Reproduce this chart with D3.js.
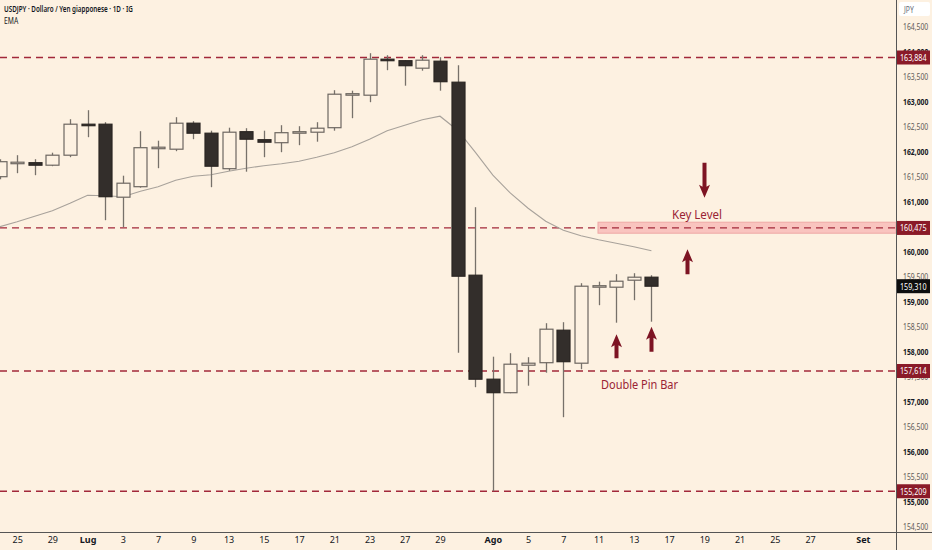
<!DOCTYPE html>
<html><head><meta charset="utf-8">
<script src="https://cdn.jsdelivr.net/npm/d3@7/dist/d3.min.js"></script>
<style>
html,body{margin:0;padding:0;background:#fdf1e1;}
svg{display:block;}
text{font-family:"Noto Sans","DejaVu Sans",sans-serif;}
</style></head>
<body>
<svg id="c" width="932" height="550"></svg>
<script>
// ---- data ----
const opens  = [161.50,161.78,161.78,161.73,161.93,162.55,162.55,161.09,161.30,162.08,162.05,162.57,162.37,161.66,162.40,162.24,162.18,162.38,162.39,162.48,163.15,163.13,163.85,163.82,163.67,163.81,163.39,159.53,157.45,157.18,157.73,157.78,158.43,157.77,159.31,159.29,159.43,159.49];
const highs  = [161.85,161.93,161.85,161.98,162.65,162.83,162.59,161.52,162.41,162.22,162.69,162.61,162.42,162.48,162.47,162.42,162.53,162.51,162.59,163.23,163.22,163.97,163.93,163.83,163.93,163.89,163.73,160.89,157.90,157.97,157.89,158.57,158.59,159.37,159.40,159.55,159.57,159.53];
const lows   = [161.45,161.57,161.53,161.71,161.89,162.29,160.63,160.49,161.28,161.67,162.01,162.25,161.29,161.62,161.60,161.89,161.99,162.13,162.20,162.42,162.67,162.99,163.63,163.32,163.62,163.22,157.98,157.29,155.21,157.17,157.32,157.58,156.69,157.65,158.93,158.58,159.03,158.60];
const closes = [161.80,161.79,161.73,161.93,162.55,162.54,161.10,161.37,162.08,162.09,162.57,162.37,161.71,162.39,162.25,162.19,162.38,162.40,162.47,163.15,163.16,163.85,163.82,163.72,163.83,163.40,159.51,157.45,157.18,157.75,157.77,158.45,157.80,159.31,159.32,159.41,159.49,159.31];
const emaValues = [160.50,160.60,160.71,160.82,160.97,161.13,161.12,161.10,161.21,161.30,161.43,161.51,161.54,161.61,161.67,161.72,161.76,161.81,161.89,161.98,162.10,162.25,162.42,162.53,162.64,162.71,162.43,161.99,161.53,161.17,160.87,160.61,160.43,160.32,160.24,160.17,160.10,160.02];
const levels = [163.884, 160.475, 157.614, 155.209];
const lastPrice = 159.310;
const keyZone = [160.37, 160.59];
// 160,500 is hidden behind the 160,475 level label in the reference
const yTicks = [154.5,155,155.5,156,156.5,157,157.5,158,158.5,159,159.5,160,161,161.5,162,162.5,163,163.5,164,164.5];
const xTickIdx    = [1,3,5,7,9,11,13,15,17,19,21,23,25,28,30,32,34,36,38,40,42,44,46,49];
const xTickLabels = ["25","29","Lug","3","7","9","13","15","17","21","23","27","29","Ago","5","7","11","13","17","19","21","25","27","Set"];
const monthLabels = ["Lug","Ago","Set"];
const title = "USDJPY · Dollaro / Yen giapponese · 1D · IG";
const indicator = "EMA";
// annotations: [barIndex, fromPrice, toPrice]
const pinArrows = [[35,157.87,158.35],[37,158.00,158.50]];
const keyArrows = [[40,161.78,161.08],[39,159.55,160.05]];

// ---- layout ----
const W=932,H=550, plotR=896, plotB=532;
const svg=d3.select("#c");
const x=d3.scaleLinear().domain([0,50]).range([-0.5,880.5]);
const y=d3.scaleLinear().domain([154.5,164.5]).range([526.7,26.7]);
const fmt=v=>d3.format(".3f")(v).replace(".",",");

svg.append("rect").attr("width",W).attr("height",H).attr("fill","#fdf1e1");

svg.append("clipPath").attr("id","pc").append("rect").attr("x",0).attr("y",0).attr("width",plotR).attr("height",plotB);
const plot=svg.append("g").attr("clip-path","url(#pc)");

// key zone rect
plot.append("rect").attr("x",598).attr("width",plotR-598)
  .attr("y",y(keyZone[1])).attr("height",y(keyZone[0])-y(keyZone[1]))
  .attr("fill","#f9c4bf").attr("stroke","#eea8a6").attr("stroke-width",1);

// dashed levels
plot.selectAll(".lvl").data(levels).join("line")
  .attr("x1",0).attr("x2",plotR).attr("y1",d=>y(d)).attr("y2",d=>y(d))
  .attr("stroke","#a2283a").attr("stroke-width",1.3).attr("stroke-dasharray","7,5");

// EMA
plot.append("path").datum(emaValues)
  .attr("d",d3.line().x((d,i)=>x(i)).y(d=>y(d)))
  .attr("fill","none").attr("stroke","#a8a29b").attr("stroke-width",1.1);

// candles
const bw=13;
const idx=d3.range(opens.length);
const cg=plot.append("g");
cg.selectAll(".w").data(idx).join("line")
  .attr("x1",i=>Math.round(x(i))+0.5).attr("x2",i=>Math.round(x(i))+0.5)
  .attr("y1",i=>y(highs[i])).attr("y2",i=>y(lows[i]))
  .attr("stroke","#77716a").attr("stroke-width",1.3);
cg.selectAll(".b").data(idx).join("rect")
  .attr("x",i=>Math.round(x(i))+0.5-bw/2).attr("width",bw)
  .attr("y",i=>y(Math.max(opens[i],closes[i])))
  .attr("height",i=>Math.max(1.5,Math.abs(y(opens[i])-y(closes[i]))))
  .attr("fill",i=>closes[i]<opens[i]?"#332e2b":"#fdf1e1")
  .attr("stroke",i=>closes[i]<opens[i]?"#2a2522":"#6d6761")
  .attr("stroke-width",1.2);

// arrows
const arrowCol="#7d1423";
function arrow(g,i,p0,p1){
  const cx=Math.round(x(i))+0.5, y0=y(p0), y1=y(p1);
  const dir=Math.sign(y1-y0);
  const head=11, hw=5.5, sw=2;
  const yb=y1-dir*head;
  const pts=[[cx-sw,y0],[cx+sw,y0],[cx+sw,yb],[cx+hw,yb-dir*2],[cx,y1],[cx-hw,yb-dir*2],[cx-sw,yb]];
  g.append("path").attr("d","M"+pts.map(p=>p.join(",")).join("L")+"Z").attr("fill",arrowCol);
}
[...pinArrows,...keyArrows].forEach(a=>arrow(plot,a[0],a[1],a[2]));

// annotation texts
plot.append("text").attr("x",672).attr("y",219)
  .attr("font-size",12.5).attr("fill","#9a2334")
  .attr("textLength",50).attr("lengthAdjust","spacingAndGlyphs").text("Key Level");
plot.append("text").attr("x",601).attr("y",389)
  .attr("font-size",12.5).attr("fill","#9a2334")
  .attr("textLength",77).attr("lengthAdjust","spacingAndGlyphs").text("Double Pin Bar");

// axes lines
svg.append("line").attr("x1",plotR+0.5).attr("x2",plotR+0.5).attr("y1",0).attr("y2",H).attr("stroke","#555").attr("stroke-width",1);
svg.append("line").attr("x1",0).attr("x2",W).attr("y1",plotB+0.5).attr("y2",plotB+0.5).attr("stroke","#555").attr("stroke-width",1);

// right axis ticks (narrow, horizontally condensed text like the reference)
const yAxis=d3.axisRight(y).tickValues(yTicks).tickSize(0).tickPadding(0).tickFormat(fmt);
const ya=svg.append("g").attr("transform",`translate(${plotR+7},0)`).call(yAxis);
ya.select(".domain").remove();
ya.selectAll("text").attr("font-size",9).attr("x",0)
  .attr("font-family","'Noto Sans',sans-serif")
  .attr("transform","scale(0.76,1)")
  .attr("fill",d=>Number.isInteger(d)?"#131722":"#5d5a57")
  .attr("font-weight",d=>Number.isInteger(d)?"700":"400");

// JPY box
svg.append("rect").attr("x",899).attr("y",2).attr("width",31).attr("height",14).attr("rx",2).attr("fill","#fff");
svg.append("text").attr("transform","translate(904,12.5) scale(0.8,1)").attr("font-size",8.5).attr("fill","#6a6d78").text("JPY");

// level price boxes
function priceBox(p,bg){
  svg.append("rect").attr("x",plotR+1).attr("y",y(p)-7).attr("width",33).attr("height",14).attr("fill",bg);
  svg.append("text").attr("transform",`translate(${plotR+4},${y(p)+3.3}) scale(0.8,1)`)
    .attr("font-size",9).attr("fill","#fff").text(fmt(p));
}
levels.forEach(p=>priceBox(p,"#8a1a28"));
priceBox(lastPrice,"#0e0e0e");

// bottom axis
const xAxis=d3.axisBottom(x).tickValues(xTickIdx).tickSize(0).tickPadding(0)
  .tickFormat((d,k)=>xTickLabels[k]);
const xa=svg.append("g").attr("transform",`translate(0,${plotB+5})`).call(xAxis);
xa.select(".domain").remove();
xa.selectAll("text").attr("font-size",9).attr("fill","#131722")
  .attr("font-family","'Noto Sans',sans-serif")
  .attr("font-weight",(d,k)=>monthLabels.includes(xTickLabels[k])?"700":"400");

// title
svg.append("text").attr("transform","translate(4,11.5) scale(0.7,1)").attr("font-size",9).attr("font-weight","600").attr("fill","#131722")
  .text(title);
svg.append("text").attr("transform","translate(4,23.5) scale(0.8,1)").attr("font-size",8.5).attr("fill","#131722")
  .text(indicator);
</script>
</body></html>
